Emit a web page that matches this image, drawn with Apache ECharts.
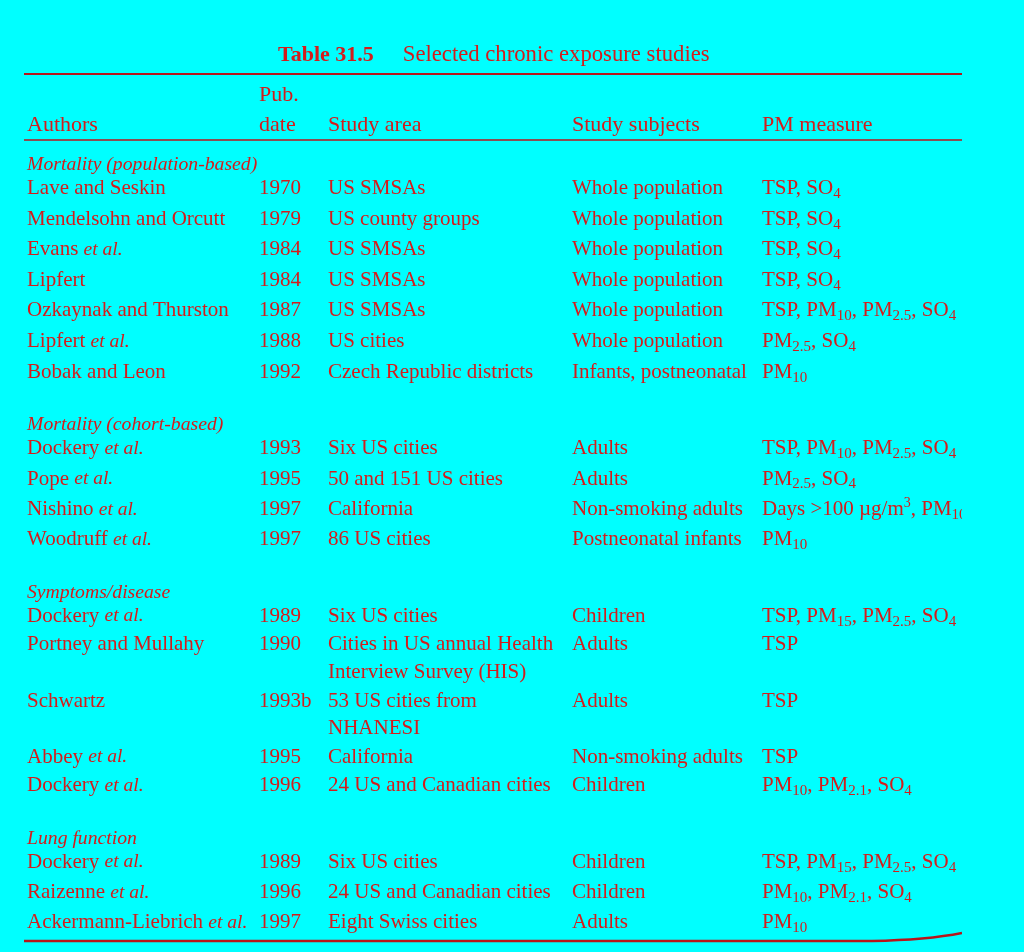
<!DOCTYPE html>
<html>
<head>
<meta charset="utf-8">
<title>Table 31.5 Selected chronic exposure studies</title>
<script src="https://cdn.jsdelivr.net/npm/echarts@6/dist/echarts.min.js"></script>
<style>
  html, body { margin: 0; padding: 0; background: #00ffff; }
  #chart { width: 1024px; height: 952px; }
</style>
</head>
<body>
<div id="chart"></div>
<script>
// table content
var headers = ['Authors', 'Pub.\ndate', 'Study area', 'Study subjects', 'PM measure'];
var groups = ['Mortality (population-based)', 'Mortality (cohort-based)', 'Symptoms/disease', 'Lung function'];
var rowGroup = [0, 0, 0, 0, 0, 0, 0, 1, 1, 1, 1, 2, 2, 2, 2, 2, 3, 3, 3];
var authors = [
  'Lave and Seskin', 'Mendelsohn and Orcutt', 'Evans {i|et al.}', 'Lipfert',
  'Ozkaynak and Thurston', 'Lipfert {i|et al.}', 'Bobak and Leon',
  'Dockery {i|et al.}', 'Pope {i|et al.}', 'Nishino {i|et al.}', 'Woodruff {i|et al.}',
  'Dockery {i|et al.}', 'Portney and Mullahy', 'Schwartz', 'Abbey {i|et al.}', 'Dockery {i|et al.}',
  'Dockery {i|et al.}', 'Raizenne {i|et al.}', 'Ackermann-Liebrich {i|et al.}'
];
var pubDates = [
  '1970', '1979', '1984', '1984', '1987', '1988', '1992',
  '1993', '1995', '1997', '1997',
  '1989', '1990', '1993b', '1995', '1996',
  '1989', '1996', '1997'
];
var studyAreas = [
  'US SMSAs', 'US county groups', 'US SMSAs', 'US SMSAs', 'US SMSAs', 'US cities', 'Czech Republic districts',
  'Six US cities', '50 and 151 US cities', 'California', '86 US cities',
  'Six US cities', 'Cities in US annual Health\nInterview Survey (HIS)', '53 US cities from\nNHANESI',
  'California', '24 US and Canadian cities',
  'Six US cities', '24 US and Canadian cities', 'Eight Swiss cities'
];
var studySubjects = [
  'Whole population', 'Whole population', 'Whole population', 'Whole population',
  'Whole population', 'Whole population', 'Infants, postneonatal',
  'Adults', 'Adults', 'Non-smoking adults', 'Postneonatal infants',
  'Children', 'Adults', 'Adults', 'Non-smoking adults', 'Children',
  'Children', 'Children', 'Adults'
];
var pmMeasures = [
  'TSP, SO{s|4}', 'TSP, SO{s|4}', 'TSP, SO{s|4}', 'TSP, SO{s|4}',
  'TSP, PM{s|10}, PM{s|2.5}, SO{s|4}', 'PM{s|2.5}, SO{s|4}', 'PM{s|10}',
  'TSP, PM{s|10}, PM{s|2.5}, SO{s|4}', 'PM{s|2.5}, SO{s|4}', 'Days >100 µg/m{u|3}, PM{s|10}', 'PM{s|10}',
  'TSP, PM{s|15}, PM{s|2.5}, SO{s|4}', 'TSP', 'TSP', 'TSP', 'PM{s|10}, PM{s|2.1}, SO{s|4}',
  'TSP, PM{s|15}, PM{s|2.5}, SO{s|4}', 'PM{s|10}, PM{s|2.1}, SO{s|4}', 'PM{s|10}'
];

// layout (scan spacing varies a little per block)
var colX = [27, 259, 328, 572, 762];
var headerY = 125, headerPitch = 30;
var firstGroupY = 165, headToRow = 23.5, contPitch = 27.5, groupGap = 53;
var groupPitch = [30.6, 30.4, 28.6, 30.2];
var ruleLeft = 24, ruleRight = 962;
var topRuleY = 74, headRuleY = 140, bottomRuleY = 941;

var RED = '#d41c1c';
var LINE = '#b8141a';
var FONT = 'Liberation Serif';

var cells = [];
headers.forEach(function (h, c) {
  var lines = h.split('\n');
  lines.forEach(function (line, k) {
    cells.push({ x: colX[c], y: headerY - (lines.length - 1 - k) * headerPitch, text: line, size: 22 });
  });
});

var lastY = 0;
rowGroup.forEach(function (g, r) {
  var y;
  if (r === 0 || rowGroup[r - 1] !== g) {
    var gy = r === 0 ? firstGroupY : lastY + groupGap;
    cells.push({ x: colX[0], y: gy, text: '{g|' + groups[g] + '}', size: 21 });
    y = gy + headToRow;
  } else {
    y = lastY + groupPitch[g];
  }
  var cols = [authors[r], pubDates[r], studyAreas[r], studySubjects[r], pmMeasures[r]];
  var maxLines = 1;
  cols.forEach(function (t, c) {
    t.split('\n').forEach(function (line, k) {
      cells.push({ x: colX[c], y: y + k * contPitch, text: line, size: 21 });
      maxLines = Math.max(maxLines, k + 1);
    });
  });
  lastY = y + (maxLines - 1) * contPitch;
});

var rules = [
  { y: topRuleY, w: 2.2 },
  { y: headRuleY, w: 1.6 },
  { y: bottomRuleY, w: 2.6, curl: true }
];

var rich = {
  g: { fontFamily: FONT, fontSize: 19.7, fontStyle: 'italic', fill: RED, lineHeight: 26 },
  i: { fontFamily: FONT, fontSize: 19.5, fontStyle: 'italic', fill: RED, lineHeight: 26 },
  s: { fontFamily: FONT, fontSize: 15, fill: RED, verticalAlign: 'bottom', lineHeight: 15 },
  u: { fontFamily: FONT, fontSize: 14, fill: RED, verticalAlign: 'top', lineHeight: 14 }
};

var chart = echarts.init(document.getElementById('chart'));
chart.setOption({
  backgroundColor: '#00ffff',
  animation: false,
  title: {
    left: 278,
    top: 44,
    padding: 0,
    text: '{b|Table 31.5}{sp|}{n|Selected chronic exposure studies}',
    textStyle: {
      rich: {
        b: { fontFamily: FONT, fontSize: 22, fontWeight: 'bold', color: RED },
        sp: { width: 29 },
        n: { fontFamily: FONT, fontSize: 22.7, fontWeight: 'normal', color: RED }
      }
    }
  },
  grid: { left: 0, top: 0, width: 962, height: 952 },
  xAxis: { type: 'value', min: 0, max: 962, show: false },
  yAxis: { type: 'value', min: 0, max: 952, inverse: true, show: false },
  series: [
    {
      type: 'custom',
      clip: true,
      silent: true,
      data: rules.map(function (r) { return [ruleLeft, r.y]; }),
      renderItem: function (params, api) {
        var r = rules[params.dataIndex];
        var p0 = api.coord([ruleLeft, r.y]);
        var p1 = api.coord([ruleRight, r.y]);
        var path;
        if (r.curl) {
          var pm = api.coord([ruleRight - 90, r.y]);
          var pe = api.coord([ruleRight, r.y - 8]);
          path = 'M' + p0[0] + ',' + p0[1] + 'L' + pm[0] + ',' + pm[1] +
            'Q' + (pm[0] + 55) + ',' + (pm[1] - 1) + ',' + pe[0] + ',' + pe[1];
        } else {
          path = 'M' + p0[0] + ',' + p0[1] + 'L' + p1[0] + ',' + p1[1];
        }
        return {
          type: 'path',
          shape: { pathData: path },
          style: { stroke: LINE, lineWidth: r.w, fill: null }
        };
      }
    },
    {
      type: 'custom',
      clip: true,
      silent: true,
      data: cells.map(function (c) { return [c.x, c.y]; }),
      renderItem: function (params, api) {
        var c = cells[params.dataIndex];
        var p = api.coord([api.value(0), api.value(1)]);
        return {
          type: 'text',
          x: p[0],
          y: p[1],
          style: {
            text: c.text,
            fontFamily: FONT,
            fontSize: c.size,
            fill: RED,
            lineHeight: 26,
            align: 'left',
            verticalAlign: 'middle',
            rich: rich
          }
        };
      }
    }
  ]
});
</script>
</body>
</html>
